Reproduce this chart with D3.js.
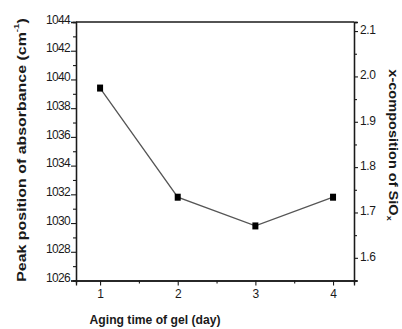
<!DOCTYPE html>
<html>
<head>
<meta charset="utf-8">
<script src="https://cdn.jsdelivr.net/npm/d3@7/dist/d3.min.js"></script>
<style>
  html, body { margin: 0; padding: 0; background: #fff; }
  svg { display: block; }
  text { font-family: "Liberation Sans", Arial, sans-serif; fill: #1a1a1a; }
</style>
</head>
<body>
<svg id="chart" width="402" height="329"></svg>
<script>
// Aging time of the gel (days) and FTIR Si-O-Si peak position (cm^-1)
const agingDays = [1, 2, 3, 4];
const peakPosition = [1039.4, 1031.8, 1029.8, 1031.8];

// Tick values for the three axes
const xTicks = [1, 2, 3, 4];
const xMinorTicks = [1.5, 2.5, 3.5];
const leftTicks = [1026, 1028, 1030, 1032, 1034, 1036, 1038, 1040, 1042, 1044];
const leftMinorTicks = [1027, 1029, 1031, 1033, 1035, 1037, 1039, 1041, 1043];
const rightTicks = [1.6, 1.7, 1.8, 1.9, 2.0, 2.1];
const rightMinorTicks = [1.55, 1.65, 1.75, 1.85, 1.95, 2.05];

const svg = d3.select("#chart");
const plot = { left: 76, right: 354, top: 22, bottom: 280.5 };

const x = d3.scaleLinear().domain([0.69, 4.27]).range([plot.left, plot.right]);
const yLeft = d3.scaleLinear().domain([1026, 1044]).range([plot.bottom, plot.top]);
const yRight = d3.scaleLinear().domain([1.55, 2.12]).range([plot.bottom, plot.top]);

const axisColor = "#1a1a1a";

function styleAxis(g) {
  g.selectAll("path.domain").attr("stroke", axisColor).attr("stroke-width", 1.3);
  g.selectAll(".tick line").attr("stroke", axisColor).attr("stroke-width", 1.1);
}

// Minor ticks first (no labels)
svg.append("g").attr("transform", `translate(0,${plot.bottom})`)
  .call(d3.axisBottom(x).tickValues(xMinorTicks).tickSize(3).tickFormat(""))
  .call(styleAxis);
svg.append("g").attr("transform", `translate(${plot.left},0)`)
  .call(d3.axisLeft(yLeft).tickValues(leftMinorTicks).tickSize(3).tickFormat(""))
  .call(styleAxis);
svg.append("g").attr("transform", `translate(${plot.right},0)`)
  .call(d3.axisRight(yRight).tickValues(rightMinorTicks).tickSize(3).tickFormat(""))
  .call(styleAxis);

// Major ticks with labels
const gx = svg.append("g").attr("transform", `translate(0,${plot.bottom})`)
  .call(d3.axisBottom(x).tickValues(xTicks).tickSize(5).tickPadding(4).tickFormat(d3.format("d")))
  .call(styleAxis);
gx.selectAll("text").attr("font-size", 12).attr("fill", "#1a1a1a")
  .attr("font-family", "Liberation Sans, Arial, sans-serif");

const gl = svg.append("g").attr("transform", `translate(${plot.left},0)`)
  .call(d3.axisLeft(yLeft).tickValues(leftTicks).tickSize(5).tickPadding(1).tickFormat(d3.format("d")))
  .call(styleAxis);
gl.selectAll("text").attr("font-size", 12).attr("letter-spacing", -0.7).attr("dy", "0.1em")
  .attr("fill", "#1a1a1a").attr("font-family", "Liberation Sans, Arial, sans-serif");

const gr = svg.append("g").attr("transform", `translate(${plot.right},0)`)
  .call(d3.axisRight(yRight).tickValues(rightTicks).tickSize(4).tickPadding(2).tickFormat(d3.format(".1f")))
  .call(styleAxis);
gr.selectAll("text").attr("font-size", 12).attr("letter-spacing", -0.4).attr("dy", "0.2em")
  .attr("fill", "#1a1a1a").attr("font-family", "Liberation Sans, Arial, sans-serif");

// Top frame line
svg.append("line")
  .attr("x1", plot.left).attr("x2", plot.right)
  .attr("y1", plot.top).attr("y2", plot.top)
  .attr("stroke", axisColor).attr("stroke-width", 1.3);

// Data line and square markers
const pts = agingDays.map((d, i) => [d, peakPosition[i]]);
svg.append("path")
  .datum(pts)
  .attr("fill", "none")
  .attr("stroke", "#555")
  .attr("stroke-width", 1.3)
  .attr("d", d3.line().x(d => x(d[0])).y(d => yLeft(d[1])));

svg.append("g").selectAll("rect")
  .data(pts)
  .join("rect")
  .attr("x", d => x(d[0]) - 3)
  .attr("y", d => yLeft(d[1]) - 3.5)
  .attr("width", 6)
  .attr("height", 7)
  .attr("fill", "#000");

// Fit a text element horizontally (along its own baseline) to a given length
function fitTitle(t, cx, cy, angle, length) {
  const w = t.node().getBBox().width;
  const k = length / w;
  t.attr("text-anchor", "middle")
   .attr("transform", `translate(${cx},${cy}) rotate(${angle}) scale(${k},1)`);
}

// Axis titles
const xt = svg.append("text")
  .attr("font-size", 12.5).attr("font-weight", "bold")
  .attr("dominant-baseline", "middle")
  .text("Aging time of gel (day)");
fitTitle(xt, 155, 321, 0, 131);

const lt = svg.append("text")
  .attr("font-size", 13).attr("font-weight", "bold")
  .attr("dominant-baseline", "middle");
lt.append("tspan").text("Peak position of absorbance (cm");
lt.append("tspan").attr("font-size", 8).attr("dy", -5).text("-1");
lt.append("tspan").attr("dy", 5).text(")");
fitTitle(lt, 22, 150, -90, 264);

const rt = svg.append("text")
  .attr("font-size", 13).attr("font-weight", "bold")
  .attr("dominant-baseline", "middle");
rt.append("tspan").text("x-composition of SiO");
rt.append("tspan").attr("font-size", 8).attr("dy", 4).text("x");
fitTitle(rt, 393, 145, 90, 152);
</script>
</body>
</html>
